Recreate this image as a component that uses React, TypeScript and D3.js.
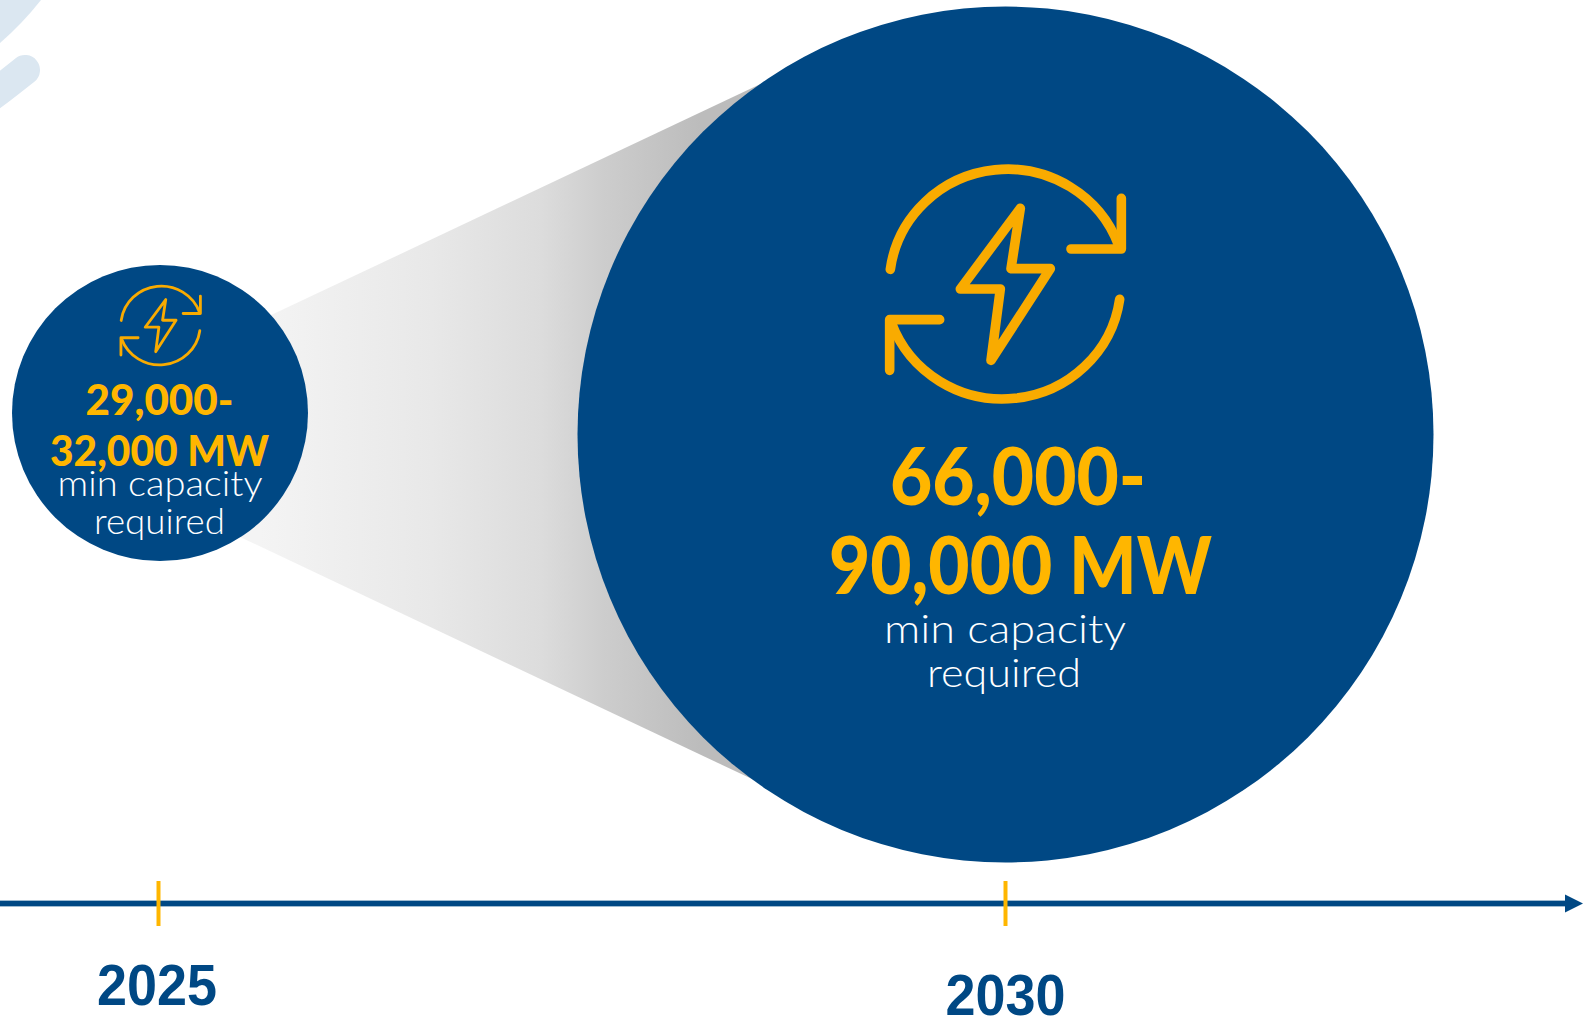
import React, { useMemo } from "react";
import * as d3 from "d3";

const WIDTH = 1590;
const HEIGHT = 1018;

// Milestone data
const years = [2025, 2030];
const capacityLow = [29000, 66000];
const capacityHigh = [32000, 90000];
const rangeLines = [
  ["29,000-", "32,000 MW"],
  ["66,000-", "90,000 MW"],
];
const subLines = ["min capacity", "required"];

const NAVY = "#004884";
const GOLD = "#FFB600";
const ICON_GOLD = "#F9AB00";

// Layout of the two bubbles and their captions
const layouts = [
  {
    dx: 1.5,
    cy: 413,
    iconCx: 160.5,
    iconCy: 325.5,
    iconScale: 0.343,
    iconStroke: 2.8,
    head: [
      { x: 85.5, y: 414.5, len: 148 },
      { x: 50, y: 465.5, len: 219 },
    ],
    headSize: 42,
    sub: [
      { x: 57.5, y: 495.5, len: 205 },
      { x: 94, y: 533.5, len: 131 },
    ],
    subSize: 35,
    labelX: 97,
    labelY: 1005,
  },
  {
    dx: 0,
    cy: 434.5,
    iconCx: 1005,
    iconCy: 284,
    iconScale: 1,
    iconStroke: 9.6,
    head: [
      { x: 890, y: 505, len: 256 },
      { x: 829, y: 594, len: 383 },
    ],
    headSize: 80,
    sub: [
      { x: 884, y: 642.5, len: 242 },
      { x: 927, y: 686.5, len: 154 },
    ],
    subSize: 40,
    labelX: 945.5,
    labelY: 1015,
  },
];

// Refresh-and-bolt pictogram, centred on the origin at full size
const ICON_SCALE = 1 / 3;
const ICON_CX = 464;
const ICON_CY = 431;
const iconPaths = [
  "M120 387 A355 348 0 0 1 805 315",
  "M813 174 V326 H662",
  "M808 477 A355 348 0 0 1 123 547",
  "M268 538 H118 V690",
  "M510 204 L482 385 H600 L422 660 L450 446 H330 Z",
];

function Icon({ cx, cy, scale, stroke }: { cx: number; cy: number; scale: number; stroke: number }) {
  const k = scale * ICON_SCALE;
  return (
    <g transform={`translate(${cx},${cy}) scale(${k}) translate(${-ICON_CX},${-ICON_CY})`}>
      {iconPaths.map((d) => (
        <path
          key={d}
          d={d}
          fill="none"
          stroke={ICON_GOLD}
          strokeWidth={stroke / k}
          strokeLinecap="round"
          strokeLinejoin="round"
        />
      ))}
    </g>
  );
}

export default function App() {
  const x = useMemo(() => d3.scaleLinear().domain([2025, 2030]).range([158.5, 1005.5]), []);
  const r = useMemo(() => d3.scaleLinear().domain([32000, 90000]).range([148, 428]), []);

  const axisY = 903.5;
  const bubbles = years.map((year, i) => ({
    year,
    low: capacityLow[i],
    high: capacityHigh[i],
    tickX: x(year),
    cx: x(year) + layouts[i].dx,
    r: r(capacityHigh[i]),
    ...layouts[i],
  }));

  // The funnel's four corners sit on the rims of the two bubbles
  const rim = (b: (typeof bubbles)[number], deg: number) => {
    const a = (deg * Math.PI) / 180;
    return [b.cx + (b.r - 1) * Math.cos(a), b.cy + (b.r - 1) * Math.sin(a)] as [number, number];
  };
  const funnel =
    d3.line()([
      rim(bubbles[0], -41.5),
      rim(bubbles[1], -124.5),
      rim(bubbles[1], 125.8),
      rim(bubbles[0], 57.3),
    ]) + "Z";

  const swoosh = d3.line().curve(d3.curveBasis)([
    [-40, 118],
    [-8, 96],
    [10, 82],
    [25, 70],
  ]);

  return (
    <svg
      width={WIDTH}
      height={HEIGHT}
      viewBox={`0 0 ${WIDTH} ${HEIGHT}`}
      style={{ position: "absolute", left: 0, top: 0, background: "#fff" }}
    >
      <defs>
        <linearGradient id="funnelFill" gradientUnits="userSpaceOnUse" x1={260} x2={700} y1={0} y2={0}>
          <stop offset="0" stopColor="#f4f4f4" />
          <stop offset="0.39" stopColor="#e8e8e8" />
          <stop offset="0.64" stopColor="#dcdcdc" />
          <stop offset="0.78" stopColor="#cdcdcd" />
          <stop offset="1" stopColor="#bcbcbc" />
        </linearGradient>
      </defs>

      {/* Pale decoration in the top-left corner */}
      <path d="M0 0 H41 Q22 24 0 43 Z" fill="#dbe7f1" />
      <path d={swoosh ?? ""} fill="none" stroke="#dbe7f1" strokeWidth={30} strokeLinecap="round" />

      <path d={funnel} fill="url(#funnelFill)" />

      {bubbles.map((b) => (
        <circle key={b.year} cx={b.cx} cy={b.cy} r={b.r} fill={NAVY} />
      ))}

      {/* Timeline */}
      <line x1={0} x2={1567} y1={axisY} y2={axisY} stroke="#7fa4c2" strokeWidth={6.5} />
      <line x1={0} x2={1567} y1={axisY} y2={axisY} stroke={NAVY} strokeWidth={5} />
      <path d={`M1565 ${axisY - 9} L1583 ${axisY} L1565 ${axisY + 9} Z`} fill={NAVY} />
      {bubbles.map((b) => (
        <line key={b.year} x1={b.tickX} x2={b.tickX} y1={881} y2={926} stroke={GOLD} strokeWidth={4} />
      ))}

      {bubbles.map((b) => (
        <g key={b.year}>
          <Icon cx={b.iconCx} cy={b.iconCy} scale={b.iconScale} stroke={b.iconStroke} />
          {b.head.map((t, j) => (
            <text
              key={j}
              x={t.x}
              y={t.y}
              textLength={t.len}
              lengthAdjust="spacingAndGlyphs"
              fontFamily="Lato"
              fontWeight={900}
              fontSize={b.headSize}
              fill={GOLD}
            >
              {rangeLines[years.indexOf(b.year)][j]}
            </text>
          ))}
          {b.sub.map((t, j) => (
            <text
              key={j}
              x={t.x}
              y={t.y}
              textLength={t.len}
              lengthAdjust="spacingAndGlyphs"
              fontFamily="Lato"
              fontWeight={300}
              fontSize={b.subSize}
              fill="#fff"
            >
              {subLines[j]}
            </text>
          ))}
          <text
            x={b.labelX}
            y={b.labelY}
            textLength={120}
            lengthAdjust="spacingAndGlyphs"
            fontFamily="Liberation Sans"
            fontWeight={700}
            fontSize={57}
            fill={NAVY}
          >
            {b.year}
          </text>
        </g>
      ))}
    </svg>
  );
}
